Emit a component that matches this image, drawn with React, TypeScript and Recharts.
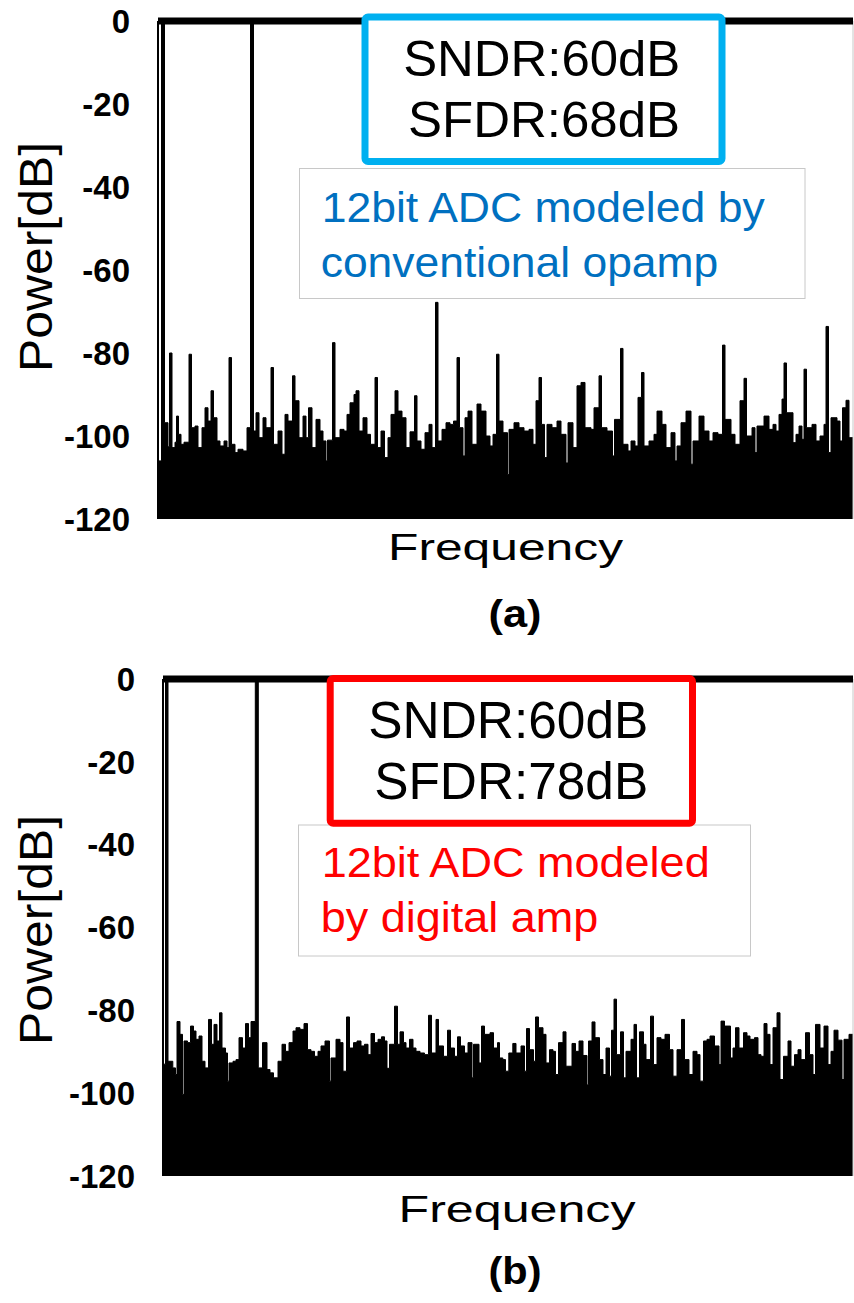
import React from 'react';
import { ComposedChart, Area, XAxis, YAxis, ReferenceLine } from 'recharts';

const FONT = '"Liberation Sans", Arial, Helvetica, sans-serif';

const yTicks = [-120, -100, -80, -60, -40, -20, 0];
const yTitle = 'Power[dB]';
const xTitle = 'Frequency';

// Panel (a): conventional opamp — frequency bins and power (dB)
const freqA = [
  0, 3.5, 6.5, 10, 11.5, 14, 17, 18.5, 20.5, 23,
  26, 31, 33.5, 37, 40, 44, 47, 50, 53, 55.5,
  59, 62, 66, 69, 71, 73.5, 77, 80, 85, 89,
  92.5, 95.5, 98, 101, 105, 108, 113, 115.5, 120, 124,
  127, 130, 134.5, 137, 141, 145, 148, 150.5, 154, 158,
  162, 165, 168, 169.5, 174.5, 177, 182, 186, 189, 192,
  196, 198, 201, 205, 209, 212.5, 217, 219.5, 223, 226.5,
  230, 233, 237, 240, 244, 248, 252, 256.5, 259, 263,
  267, 271, 274, 277.5, 280, 284, 288, 292, 295.5, 299,
  301.5, 305, 307, 310, 314, 319, 323, 328, 332, 335,
  338.5, 341, 345, 349.5, 351, 356, 361, 366, 371, 375,
  378, 381, 383.5, 386.5, 389, 394, 399, 403, 408, 410,
  415, 419, 423, 427, 433, 436, 441, 443.5, 449, 454.5,
  456.5, 462.5, 465, 470, 473, 477, 480, 483.5, 486, 491,
  496, 499, 504, 508, 513, 517, 519, 523, 528, 533,
  535, 541, 546, 551, 555, 560, 564.5, 567, 573, 577,
  582, 586, 588.5, 594, 597, 599, 606, 611, 615, 618,
  621, 624, 626, 628.5, 635, 638, 641, 644, 646, 648.5,
  654, 658, 662, 666, 668, 670.5, 673, 679, 682, 684.5,
  688, 691, 695,
];
const powerA = [
  -106, 0, -96.8, -102.6, -80, -102.8, -101.5, -95.2, -99.6, -102,
  -101.5, -80.3, -98, -97.6, -102.8, -98, -93.2, -96.4, -89.1, -95.6,
  -101.2, -102.4, -101.2, -102.8, -81.1, -102, -104, -103.2, -103.6, -98,
  0, -98.8, -94.4, -100.4, -95.6, -98, -83.5, -102, -98.8, -104.4,
  -94.8, -96.4, -85.5, -91.5, -100.4, -95.2, -100.4, -93.2, -102.8, -96,
  -98.8, -101.2, -106, -101, -77.5, -100.4, -98.4, -98.8, -94.8, -92,
  -90, -89.1, -98.8, -95.6, -99.6, -102, -85.9, -102.8, -98.8, -105.2,
  -100.4, -94.8, -89.1, -94, -95.6, -102.8, -99, -90.3, -101.2, -103.2,
  -99.2, -97.2, -102.8, -67.8, -101.2, -98.4, -96.8, -97.2, -96.4, -81.1,
  -98, -104.8, -95.6, -94, -102, -92.3, -94, -100, -102.4, -99.6,
  -80.3, -96.4, -99.2, -109.3, -98.4, -96.8, -98, -98.8, -98.4, -102,
  -91.5, -85.9, -97.2, -105.2, -97.2, -98, -96.4, -99.6, -106.5, -96.8,
  -102.8, -87.9, -87.1, -98, -98.4, -93.2, -85.5, -98, -98.8, -104.8,
  -96, -78.9, -102, -103.6, -101.2, -102.4, -90.7, -84.7, -102.4, -101.2,
  -99.6, -94, -97.2, -102.8, -99.2, -106, -102.4, -96.8, -94, -106.8,
  -101.2, -95.2, -98.8, -101.2, -99.2, -99.6, -78.1, -96, -99.6, -102,
  -91.5, -86.1, -100, -98, -104, -97.6, -95.2, -98.4, -97.2, -98.8,
  -94.8, -91.1, -82.4, -94.4, -101.6, -99.6, -97.6, -100.8, -83.9, -98,
  -97.2, -101.2, -100, -97.2, -73.6, -104, -95.6, -96.4, -101.2, -93.2,
  -91.4, -100.4, -100.4,
];

// Panel (b): digital amp — frequency bins and power (dB)
const freqB = [
  0, 2.5, 5, 9.8, 12.5, 14, 17, 19.5, 21, 24.5,
  27.5, 30.5, 33, 36, 39, 42, 45.5, 48.5, 51, 54,
  56.5, 59, 62.5, 64.5, 66, 70, 73, 76, 79.5, 82.5,
  85.5, 88, 92.3, 95.3, 99.5, 104, 107, 110.5, 115, 119,
  122.5, 126, 130, 133, 137, 141, 144.5, 148, 151.5, 155,
  158, 162, 166.5, 168, 173, 177, 180, 183.5, 186.5, 190.5,
  194, 198, 201.5, 205, 208, 211.5, 215, 218.5, 221.5, 224,
  226.5, 231.5, 234.5, 237, 240.5, 243, 246.5, 250, 253, 257,
  261.5, 265.5, 268.5, 273, 275.5, 280.5, 284.5, 287.5, 291.5, 294.5,
  297.5, 301.5, 305, 309, 310.5, 316, 318.5, 321.5, 327, 330.5,
  334.5, 336.5, 339.8, 342.5, 345.8, 349.8, 353, 358, 361.5, 363.5,
  366.5, 370.5, 372.5, 375.5, 380, 383, 386.5, 390, 392.5, 395.5,
  400, 403, 409, 412.5, 416, 420, 424, 425.5, 429, 432,
  436.5, 440, 443, 446.5, 448.5, 451, 453.5, 457.5, 460.5, 463,
  468, 471, 473.5, 476.5, 480.5, 483, 487.5, 490.5, 494, 498,
  502, 506.5, 510, 514, 518.5, 521.5, 526, 530, 534, 537,
  540.5, 544, 547, 551.5, 556, 558, 561.5, 565, 567.5, 570,
  572.5, 576, 580.5, 584, 587, 591.5, 595, 598, 601, 604,
  607, 610, 614, 617, 620.5, 625, 628, 631.5, 635, 638,
  642.5, 646.5, 650, 652.5, 657, 661, 665, 668, 671, 675,
  679, 681, 686, 690,
];
const powerB = [
  -93, 0, -92.3, -93.9, -95.5, -82.7, -85.8, -100.3, -87.4, -87.8,
  -83.8, -85, -87, -86.2, -92.3, -93.9, -82.2, -88.2, -83.4, -87.4,
  -80.6, -89.1, -90.3, -97.1, -92.7, -92.3, -91.9, -86.6, -89.1, -83.2,
  -86.6, -82.7, 0, -93.9, -87.8, -94.3, -95.1, -96.3, -92.3, -88.2,
  -89.9, -87.8, -85, -84.2, -84.6, -83.2, -89.5, -89.9, -91.1, -89.9,
  -88.6, -87.4, -97.1, -91.5, -87, -87.8, -94.7, -81.6, -89.1, -87.8,
  -87.4, -88.6, -88.2, -90.7, -85.6, -87.8, -87, -86.4, -87.4, -94,
  -88.2, -79, -88.2, -85.2, -87.8, -89.1, -87, -89.1, -89.9, -90.3,
  -90.7, -81.2, -90.3, -82.2, -88.6, -91.1, -84.8, -89.1, -91.1, -86.4,
  -88.6, -90.3, -87.8, -96.3, -88.2, -92.7, -83.8, -85.8, -85.4, -89.1,
  -87.8, -91.5, -91.9, -94.7, -90.3, -88, -90.3, -88.6, -94.7, -84.4,
  -89.5, -92.3, -81.6, -84.2, -85.8, -92.7, -89.5, -89.9, -95.5, -87.8,
  -85.2, -93.5, -88, -89.9, -87.4, -90.9, -98, -87.4, -82.8, -86.6,
  -91.9, -95.5, -89.1, -95.9, -84.8, -77.3, -90.7, -85.2, -96.3, -89.9,
  -87, -83.4, -96.3, -85.2, -88.2, -91.9, -81.4, -93.1, -86.6, -87,
  -85.8, -89.5, -95.9, -89.5, -82.2, -91.9, -95.5, -89.9, -90.7, -97.1,
  -87.4, -87, -86.2, -88.6, -93.1, -82.6, -83.8, -83.8, -91.5, -89.1,
  -84.2, -89.1, -85.4, -86.2, -87, -86.6, -90.7, -91.1, -83.2, -85.8,
  -93.1, -84.2, -80.6, -96.7, -91.1, -87.4, -93.5, -90.7, -89.5, -91.9,
  -85.4, -90.7, -95.5, -83.4, -89.1, -83.8, -93.1, -89.9, -84.8, -87.2,
  -96.7, -87, -85.8, -85.8,
];

const noteA = ['SNDR:60dB', 'SFDR:68dB', '12bit ADC modeled by', 'conventional opamp', '(a)'];
const noteB = ['SNDR:60dB', 'SFDR:78dB', '12bit ADC modeled', 'by digital amp', '(b)'];

type SpecProps = {
  freq: number[];
  power: number[];
  fMax: number;
  top: number;
  height: number;
  marginTop: number;
  marginBottom: number;
  axisWidth: number;
};

function Spectrum({ freq, power, fMax, top, height, marginTop, marginBottom, axisWidth }: SpecProps) {
  const data = freq.map((f, i) => ({ f, p: power[i] }));
  return (
    <div style={{ position: 'absolute', left: 0, top }}>
      <ComposedChart
        width={854}
        height={height}
        data={data}
        margin={{ top: marginTop, right: 1, bottom: marginBottom, left: 0 }}
      >
        <XAxis
          type="number"
          dataKey="f"
          domain={[0, fMax]}
          tick={false}
          tickLine={false}
          height={0}
          axisLine={{ stroke: '#5a5a5a', strokeWidth: 1.5 }}
        />
        <YAxis
          type="number"
          domain={[-120, 0]}
          ticks={yTicks}
          interval={0}
          width={axisWidth}
          tickLine={false}
          tickSize={0}
          tickMargin={28}
          axisLine={{ stroke: '#000', strokeWidth: 2 }}
          tick={{ fill: '#000', fontSize: 33, fontWeight: 700, fontFamily: FONT }}
          allowDataOverflow
        />
        <Area
          type="stepAfter"
          dataKey="p"
          baseValue={-120}
          stroke="#000"
          strokeWidth={1}
          fill="#000"
          fillOpacity={1}
          isAnimationActive={false}
          dot={false}
          activeDot={false}
        />
        <ReferenceLine x={fMax} stroke="#c8c8c8" strokeWidth={1} />
        <ReferenceLine y={0} stroke="#000" strokeWidth={7} />
      </ComposedChart>
    </div>
  );
}

export default function App() {
  return (
    <div style={{ position: 'absolute', left: 0, top: 0, width: 854, height: 1303, background: '#fff', overflow: 'hidden' }}>
      <Spectrum freq={freqA} power={powerA} fMax={695} top={0} height={560} marginTop={21} marginBottom={41} axisWidth={158} />
      <Spectrum freq={freqB} power={powerB} fMax={690} top={650} height={570} marginTop={29} marginBottom={44} axisWidth={163} />
      <svg
        width={854}
        height={1303}
        style={{ position: 'absolute', left: 0, top: 0, pointerEvents: 'none' }}
        fontFamily={FONT}
      >
        {/* Panel (a) annotations */}
        <text transform="translate(52,257) rotate(-90)" textAnchor="middle" fontSize={46} textLength={230} lengthAdjust="spacingAndGlyphs" fill="#000">{yTitle}</text>
        <text x={505.5} y={560} textAnchor="middle" fontSize={37} textLength={235} lengthAdjust="spacingAndGlyphs" fill="#000">{xTitle}</text>
        <text x={515} y={627} textAnchor="middle" fontSize={39} fontWeight={700} textLength={53} lengthAdjust="spacingAndGlyphs" fill="#000">{noteA[4]}</text>
        <rect x={299.5} y={168.5} width={505.5} height={130} fill="#fff" stroke="#c8c8c8" strokeWidth={1} />
        <text x={321.7} y={221.7} fontSize={42} textLength={443} lengthAdjust="spacingAndGlyphs" fill="#0070C0">{noteA[2]}</text>
        <text x={320.7} y={276.7} fontSize={42} textLength={397.6} lengthAdjust="spacingAndGlyphs" fill="#0070C0">{noteA[3]}</text>
        <rect x={365} y={17} width={357} height={144.5} rx={3} fill="#fff" stroke="#00B0F0" strokeWidth={7} />
        <text x={541.7} y={76} textAnchor="middle" fontSize={50} textLength={277} lengthAdjust="spacingAndGlyphs" fill="#000">{noteA[0]}</text>
        <text x={544} y={136.7} textAnchor="middle" fontSize={50} textLength={272} lengthAdjust="spacingAndGlyphs" fill="#000">{noteA[1]}</text>

        {/* Panel (b) annotations */}
        <text transform="translate(52,930) rotate(-90)" textAnchor="middle" fontSize={46} textLength={230} lengthAdjust="spacingAndGlyphs" fill="#000">{yTitle}</text>
        <text x={517} y={1222} textAnchor="middle" fontSize={37} textLength={237} lengthAdjust="spacingAndGlyphs" fill="#000">{xTitle}</text>
        <text x={515} y={1284} textAnchor="middle" fontSize={39} fontWeight={700} textLength={53} lengthAdjust="spacingAndGlyphs" fill="#000">{noteB[4]}</text>
        <rect x={298.5} y={825} width={452} height={131} fill="#fff" stroke="#c8c8c8" strokeWidth={1} />
        <text x={321.7} y={876.7} fontSize={42} textLength={388} lengthAdjust="spacingAndGlyphs" fill="#FF0000">{noteB[2]}</text>
        <text x={320.7} y={931.5} fontSize={42} textLength={277.6} lengthAdjust="spacingAndGlyphs" fill="#FF0000">{noteB[3]}</text>
        <rect x={330.2} y={678.5} width={362.3} height={144.7} rx={3} fill="#fff" stroke="#FF0000" strokeWidth={7} />
        <text x={508.3} y={738.3} textAnchor="middle" fontSize={51} textLength={280} lengthAdjust="spacingAndGlyphs" fill="#000">{noteB[0]}</text>
        <text x={511.2} y={799.3} textAnchor="middle" fontSize={51} textLength={274} lengthAdjust="spacingAndGlyphs" fill="#000">{noteB[1]}</text>
      </svg>
    </div>
  );
}
